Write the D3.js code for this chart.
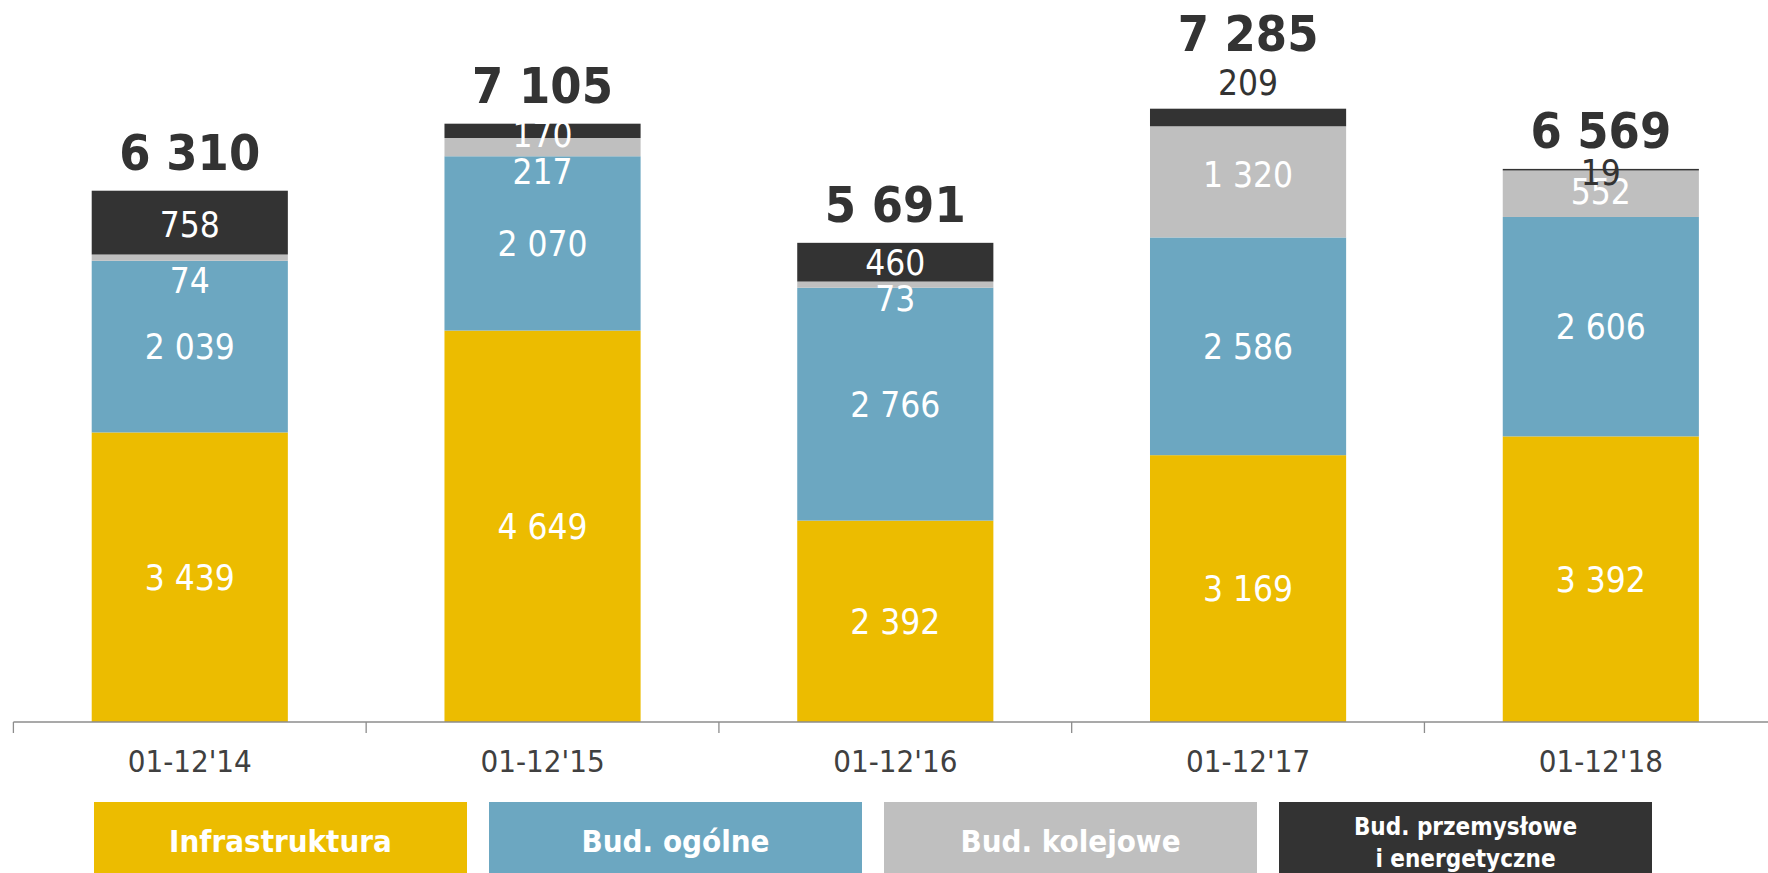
<!DOCTYPE html>
<html>
<head>
<meta charset="utf-8">
<script src="https://cdn.jsdelivr.net/npm/d3@7"></script>
<style>
  body { margin: 0; background: #fff; }
  svg { display: block; font-family: "DejaVu Sans Condensed", "DejaVu Sans", sans-serif; }
</style>
</head>
<body>
<script>
// dane
let categories = ["01-12'14", "01-12'15", "01-12'16", "01-12'17", "01-12'18"]
let seriesNames = ['Infrastruktura', 'Bud. ogólne', 'Bud. kolejowe', 'Bud. przemysłowe i energetyczne']
let infrastruktura = [3439, 4649, 2392, 3169, 3392]
let budOgolne = [2039, 2070, 2766, 2586, 2606]
let budKolejowe = [74, 217, 73, 1320, 552]
let budPrzemyslowe = [758, 170, 460, 209, 19]
let totals = [6310, 7105, 5691, 7285, 6569]

// style
let colors = ['#ECBC00', '#6CA7C1', '#BFBFBF', '#333333']
let W = 1768, H = 873
let axisY = 722
// ręczne przesunięcia etykiet (jak w oryginale), [seria][kategoria]
let labelNudge = [
  [0, 0, 0, 0, 0],
  [0, 0, 0, 0, 0],
  [23, 24, 14, -7, -2],
  [2, 4, 0, -35, 3]
]
let darkLabel = [[], [], [], [false, false, false, true, true]]
let totalNudge = [0, 0, 0, -37, 0]

let fmt = v => d3.format(',')(v).replace(/,/g, ' ')

let svg = d3.select('body').append('svg')
  .attr('width', W)
  .attr('height', H)

let x = d3.scaleBand()
  .domain(categories)
  .range([13.4, 1777.2])
  .paddingInner(0.444)
  .paddingOuter(0.222)

let y = d3.scaleLinear()
  .domain([0, 8575])
  .range([axisY, 0])

let rows = categories.map((c, i) => ({
  cat: c,
  v0: infrastruktura[i],
  v1: budOgolne[i],
  v2: budKolejowe[i],
  v3: budPrzemyslowe[i]
}))
let stack = d3.stack().keys(['v0', 'v1', 'v2', 'v3'])(rows)

//słupki
let layers = svg.selectAll('g.layer')
  .data(stack)
  .enter()
  .append('g')
  .attr('class', 'layer')
  .attr('fill', (d, i) => colors[i])

layers.selectAll('rect')
  .data(d => d)
  .enter()
  .append('rect')
  .attr('x', d => x(d.data.cat))
  .attr('y', d => y(d[1]))
  .attr('width', x.bandwidth())
  .attr('height', d => y(d[0]) - y(d[1]))

//etykiety segmentów
stack.forEach((layer, si) => {
  svg.append('g').selectAll('text')
    .data(layer)
    .enter()
    .append('text')
    .attr('x', d => x(d.data.cat) + x.bandwidth() / 2)
    .attr('y', (d, i) => (y(d[0]) + y(d[1])) / 2 + labelNudge[si][i])
    .attr('dy', '0.36em')
    .attr('text-anchor', 'middle')
    .attr('font-size', 35)
    .attr('fill', (d, i) => darkLabel[si][i] ? '#333333' : '#ffffff')
    .text(d => fmt(d[1] - d[0]))
})

//sumy
svg.append('g').selectAll('text')
  .data(totals)
  .enter()
  .append('text')
  .attr('x', (d, i) => x(categories[i]) + x.bandwidth() / 2)
  .attr('y', (d, i) => y(d) - 21 + totalNudge[i])
  .attr('text-anchor', 'middle')
  .attr('font-size', 50)
  .attr('font-weight', 'bold')
  .attr('fill', '#333333')
  .text(d => fmt(d))

//oś x
let axis = svg.append('g').attr('stroke', '#8c8c8c').attr('stroke-width', 1.3)
axis.append('line')
  .attr('x1', x.range()[0])
  .attr('x2', W)
  .attr('y1', axisY)
  .attr('y2', axisY)
axis.selectAll('line.tick')
  .data(d3.range(categories.length))
  .enter()
  .append('line')
  .attr('class', 'tick')
  .attr('x1', i => x.range()[0] + i * x.step())
  .attr('x2', i => x.range()[0] + i * x.step())
  .attr('y1', axisY)
  .attr('y2', axisY + 11)

svg.append('g').selectAll('text')
  .data(categories)
  .enter()
  .append('text')
  .attr('x', d => x(d) + x.bandwidth() / 2)
  .attr('y', 772)
  .attr('text-anchor', 'middle')
  .attr('font-size', 31)
  .attr('fill', '#404040')
  .text(d => d)

//legenda
let lx = d3.scaleBand()
  .domain(seriesNames)
  .range([94, 94 + 395 * 4 - 22])
  .paddingInner(22 / 395)
  .paddingOuter(0)

let leg = svg.append('g').selectAll('g')
  .data(seriesNames)
  .enter()
  .append('g')
  .attr('transform', d => `translate(${lx(d)}, 802)`)

leg.append('rect')
  .attr('width', lx.bandwidth())
  .attr('height', 80)
  .attr('fill', (d, i) => colors[i])

leg.each(function (d, i) {
  let g = d3.select(this)
  let cx = lx.bandwidth() / 2
  if (i < 3) {
    g.append('text')
      .attr('x', cx)
      .attr('y', 50)
      .attr('text-anchor', 'middle')
      .attr('font-size', 31)
      .attr('font-weight', 'bold')
      .attr('fill', '#ffffff')
      .text(d)
  } else {
    let lines = ['Bud. przemysłowe', 'i energetyczne']
    g.selectAll('text')
      .data(lines)
      .enter()
      .append('text')
      .attr('x', cx)
      .attr('y', (l, j) => 33 + j * 32)
      .attr('text-anchor', 'middle')
      .attr('font-size', 24)
      .attr('font-weight', 'bold')
      .attr('fill', '#ffffff')
      .text(l => l)
  }
})
</script>
</body>
</html>
